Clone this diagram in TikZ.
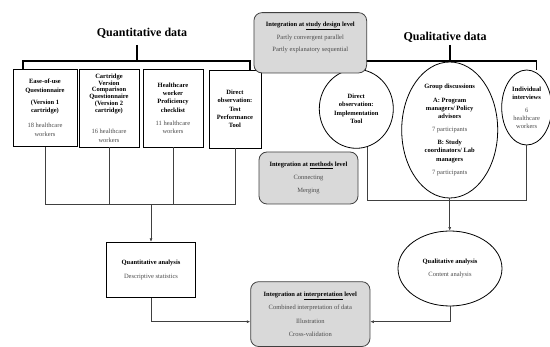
\documentclass[tikz,border=0pt]{standalone}
\usepackage{fontspec}
\setmainfont{Liberation Serif}
\usetikzlibrary{shapes.geometric,arrows.meta}

% plain (non bold) lines inside the boxes
\newcommand{\ppl}[1]{{\color{black!70}#1}}

\begin{document}
\begin{tikzpicture}[x=1pt,y=-1pt,
    every node/.style={font=\fontsize{6.5}{8.3}\selectfont, align=center, inner sep=0pt},
    ttl/.style={font=\fontsize{12}{14}\selectfont\bfseries},
    srcbox/.style={draw, line width=0.9pt},
    srcell/.style={draw, ellipse, line width=0.8pt},
    intbox/.style={draw=black!75, fill=black!15, rounded corners=8pt, line width=0.8pt},
    brk/.style={line width=1.5pt},
    link/.style={draw=black!75, line width=0.6pt},
    arr/.style={link, -{Latex[length=3.5pt,width=3pt]}}]

    \useasboundingbox (0,0) rectangle (550,347);

    % Titles of the two strands
    \node[ttl] (qttl) at (142,33) {Quantitative data};
    \node[ttl] (qlttl) at (445,37) {Qualitative data};

    % Quantitative data sources
    \node[srcbox, minimum width=64pt, minimum height=77.5pt] (b1) at (45,107.8)
        {\textbf{Ease-of-use}\\[0.7pt]\textbf{Questionnaire}\\[3.4pt]\textbf{(Version 1}\\\textbf{cartridge)}\\[6.7pt]\ppl{18 healthcare}\\\ppl{workers}};
    \node[srcbox, minimum width=60pt, minimum height=78pt] (b2) at (109,108)
        {\textbf{Cartridge}\\[-1.5pt]\textbf{Version}\\[-1.5pt]\textbf{Comparison}\\[-1.5pt]\textbf{Questionnaire}\\[-1.5pt]\textbf{(Version 2}\\[-1.5pt]\textbf{cartridge)}\\[13.4pt]\ppl{16 healthcare}\\\ppl{workers}};
    \node[srcbox, minimum width=60pt, minimum height=78pt] (b3) at (173,108)
        {\textbf{Healthcare}\\\textbf{worker}\\\textbf{Proficiency}\\\textbf{checklist}\\[5.1pt]\ppl{11 healthcare}\\[-0.7pt]\ppl{workers}};
    \node[srcbox, minimum width=52pt, minimum height=78pt] (b4) at (235,109)
        {\textbf{Direct}\\\textbf{observation:}\\\textbf{Test}\\\textbf{Performance}\\\textbf{Tool}};

    % Bracket over the quantitative sources
    \coordinate (qtL) at (23,61);
    \coordinate (qtR) at (250,61);
    \coordinate (qtS) at (137,45);
    \draw[brk] (qtS) -- (qtS |- qtL);
    \draw[brk] (qtL |- b1.north) -- (qtL) -- (qtR) -- (qtR |- b4.north);

    % Qualitative data sources
    \node[srcell, minimum width=74pt, minimum height=79pt] (dobs) at (356.3,108.8)
        {\textbf{Direct}\\\textbf{observation:}\\\textbf{Implementation}\\\textbf{Tool}};
    \node[srcell, minimum width=96pt, minimum height=136pt] (grp) at (449.7,130)
        {\textbf{Group discussions}\\[5pt]\textbf{A: Program}\\\textbf{managers/ Policy}\\\textbf{advisors}\\[4.1pt]\ppl{7 participants}\\[5pt]\textbf{B: Study}\\\textbf{coordinators/ Lab}\\\textbf{managers}\\[5pt]\ppl{7 participants}};
    \node[srcell, minimum width=50pt, minimum height=75pt] (indv) at (526.7,107.5)
        {\textbf{Individual}\\\textbf{interviews}\\[5pt]\ppl{6}\\[-0.5pt]\ppl{healthcare}\\[-0.5pt]\ppl{workers}};

    % Bracket over the qualitative sources
    \coordinate (qlL) at (365,61);
    \coordinate (qlR) at (536.7,61);
    \coordinate (qlS) at (450,45);
    \draw[brk] (qlS) -- (qlS |- qlL);
    \draw[brk] ([yshift=-9pt]qlL) -- (qlL) -- (qlR) -- ([yshift=-9pt]qlR);

    % Integration boxes
    \node[intbox, minimum width=112.7pt, minimum height=60.3pt] (sd) at (310.3,42.8) {};
    \node (sdtxt) at (310.3,37.5)
        {\textbf{Integration at \underline{study design} level}\\[4.4pt]\ppl{Partly convergent parallel}\\[4.4pt]\ppl{Partly explanatory sequential}};
    \node[intbox, minimum width=99pt, minimum height=52pt] (md) at (308.5,178)
        {\textbf{Integration at \underline{methods} level}\\[5pt]\ppl{Connecting}\\[5pt]\ppl{Merging}};
    \node[intbox, minimum width=119.3pt, minimum height=64.8pt] (ip) at (310.3,314.1)
        {\textbf{Integration at \underline{interpretation} level}\\[5.1pt]\ppl{Combined interpretation of data}\\[5.1pt]\ppl{Illustration}\\[5.1pt]\ppl{Cross-validation}};

    % Analysis steps
    \node[srcbox, minimum width=89pt, minimum height=55pt] (qa) at (151,269.8)
        {\textbf{Quantitative analysis}\\[5.3pt]\ppl{Descriptive statistics}};
    \node[srcell, minimum width=104pt, minimum height=75pt] (ql) at (450,268.5)
        {\textbf{Qualitative analysis}\\[5pt]\ppl{Content analysis}};

    % Quantitative sources joined and led to the analysis
    \coordinate (qtj) at (151,204.3);
    \draw[link] (b1.south) -- (b1.south |- qtj) -- (b4.south |- qtj) -- (b4.south);
    \draw[link] (b2.south) -- (b2.south |- qtj);
    \draw[link] (b3.south) -- (b3.south |- qtj);
    \draw[arr] (qtj) -- (qa.north);

    % Qualitative sources joined and led to the analysis
    \coordinate (qlj) at (450,200.5);
    \draw[link] (dobs.-74) -- (dobs.-74 |- qlj) -- (indv.south |- qlj) -- (indv.south);
    \draw[arr] (grp.south) -- (grp.south |- ql.north);

    % Both analyses meet at the interpretation level
    \coordinate (ipL) at (151,321.7);
    \coordinate (ipR) at (449,321.7);
    \draw[arr] (qa.south) -- (qa.south |- ipL) -- (ipL -| ip.west);
    \draw[arr] (ql.south) -- (ql.south |- ipR) -- (ipR -| ip.east);

\end{tikzpicture}
\end{document}
